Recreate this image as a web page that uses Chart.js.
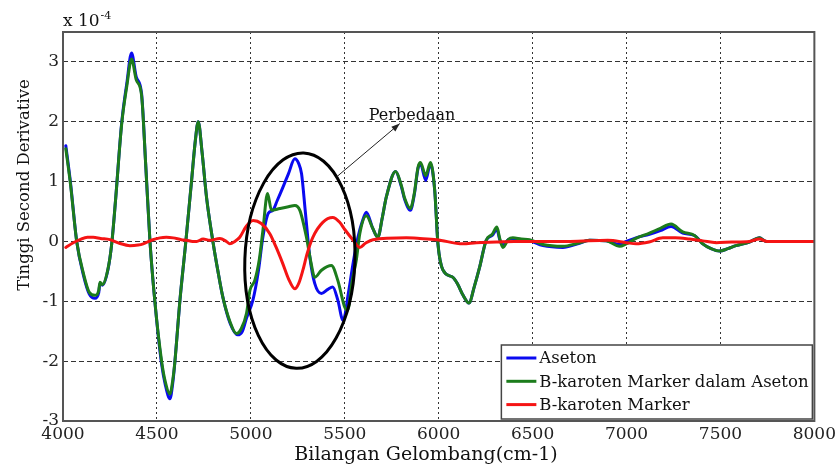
<!DOCTYPE html>
<html>
<head>
<meta charset="utf-8">
<script src="https://cdn.jsdelivr.net/npm/chart.js@4.4.1/dist/chart.umd.min.js"></script>
<style>
  html, body { margin: 0; padding: 0; background: #fff; }
</style>
</head>
<body>
<canvas id="spectrumChart" width="839" height="468"></canvas>
<script>
const seriesLabels = ['Aseton', 'B-karoten Marker dalam Aseton', 'B-karoten Marker'];
const seriesColors = ['#0a0af0', '#1c7c1c', '#f51414'];

// Aseton (blue)
const asetonWn = [4015, 4040, 4073, 4110, 4140, 4170, 4190, 4197, 4210, 4240, 4259, 4280, 4312, 4340, 4365, 4390, 4418, 4440, 4463, 4489,
  4525, 4545, 4569, 4585, 4596, 4622, 4654, 4684, 4705, 4720, 4740, 4764, 4798, 4825, 4851, 4890, 4930, 4955, 4977, 5011,
  5040, 5064, 5093, 5117, 5140, 5170, 5200, 5234, 5255, 5270, 5290, 5314, 5340, 5376, 5410, 5436, 5463, 5491, 5520, 5545,
  5570, 5595, 5615, 5649, 5676, 5700, 5721, 5771, 5800, 5819, 5849, 5870, 5890, 5903, 5931, 5956, 5979, 5996, 6023, 6076,
  6102, 6130, 6161, 6190, 6218, 6253, 6285, 6310, 6325, 6342, 6370, 6395, 6440, 6484, 6555, 6661, 6740, 6803, 6892, 6963,
  6998, 7050, 7122, 7180, 7237, 7299, 7362, 7406, 7450, 7495, 7540, 7583, 7654, 7707, 7743, 7800, 8000];
const asetonVal = [1.6, 0.98, 0.0, -0.58, -0.88, -0.95, -0.86, -0.7, -0.73, -0.46, -0.05, 0.7, 1.97, 2.65, 3.15, 2.75, 2.48, 1.3, 0.0, -1.0,
  -2.05, -2.4, -2.63, -2.35, -2.0, -1.0, 0.0, 1.0, 1.7, 2.0, 1.5, 0.74, 0.0, -0.5, -0.93, -1.37, -1.56, -1.5, -1.28, -0.98,
  -0.5, 0.07, 0.47, 0.52, 0.68, 0.9, 1.13, 1.38, 1.3, 1.13, 0.5, -0.26, -0.7, -0.87, -0.8, -0.76, -0.98, -1.32, -0.85, -0.35,
  0.07, 0.35, 0.49, 0.22, 0.07, 0.4, 0.74, 1.17, 0.93, 0.7, 0.52, 0.78, 1.22, 1.3, 1.02, 1.3, 0.85, -0.04, -0.48, -0.6,
  -0.72, -0.9, -1.03, -0.75, -0.43, 0.02, 0.1, 0.2, 0.03, -0.06, 0.03, 0.05, 0.03, 0.01, -0.07, -0.1, -0.04, 0.02, 0.01, -0.05,
  0.0, 0.06, 0.12, 0.18, 0.25, 0.14, 0.1, -0.04, -0.12, -0.16, -0.12, -0.07, -0.01, 0.06, 0.0, 0.0, 0.0];

// B-karoten Marker dalam Aseton (green)
const campuranWn = [4015, 4040, 4073, 4110, 4140, 4170, 4190, 4197, 4210, 4240, 4259, 4280, 4312, 4340, 4365, 4390, 4418, 4440, 4463, 4489,
  4525, 4545, 4569, 4585, 4596, 4622, 4654, 4684, 4705, 4720, 4740, 4764, 4798, 4825, 4851, 4890, 4923, 4950, 4977, 4995,
  5021, 5045, 5064, 5089, 5110, 5154, 5200, 5234, 5261, 5296, 5320, 5340, 5376, 5429, 5463, 5500, 5515, 5540, 5562, 5580,
  5615, 5649, 5676, 5700, 5721, 5771, 5800, 5819, 5849, 5870, 5890, 5903, 5931, 5956, 5979, 5996, 6023, 6076, 6102, 6130,
  6161, 6190, 6218, 6253, 6285, 6310, 6325, 6342, 6370, 6395, 6440, 6484, 6555, 6661, 6740, 6803, 6892, 6963, 6998, 7050,
  7122, 7180, 7237, 7299, 7362, 7406, 7450, 7495, 7540, 7583, 7654, 7707, 7743, 7800, 8000];
const campuranVal = [1.55, 0.95, 0.0, -0.55, -0.85, -0.9, -0.82, -0.68, -0.72, -0.45, -0.05, 0.7, 1.95, 2.6, 3.05, 2.7, 2.45, 1.3, 0.0, -1.0,
  -2.0, -2.35, -2.55, -2.3, -2.0, -1.0, 0.0, 1.0, 1.7, 2.0, 1.5, 0.74, 0.0, -0.5, -0.93, -1.35, -1.54, -1.45, -1.2, -0.82,
  -0.65, -0.3, 0.18, 0.8, 0.52, 0.55, 0.58, 0.6, 0.52, 0.07, -0.35, -0.6, -0.48, -0.4, -0.65, -1.1, -1.15, -0.65, -0.3, 0.13,
  0.43, 0.22, 0.07, 0.4, 0.74, 1.17, 0.95, 0.72, 0.55, 0.8, 1.24, 1.32, 1.1, 1.32, 0.85, -0.04, -0.48, -0.6, -0.72, -0.9,
  -1.03, -0.75, -0.43, 0.02, 0.12, 0.24, 0.05, -0.1, 0.03, 0.06, 0.04, 0.03, -0.05, -0.08, -0.03, 0.02, 0.01, -0.08, -0.04, 0.05,
  0.14, 0.22, 0.29, 0.16, 0.1, -0.04, -0.12, -0.16, -0.12, -0.07, -0.01, 0.06, 0.0, 0.0, 0.0];

// B-karoten Marker (red)
const markerWn = [4015, 4050, 4090, 4130, 4161, 4200, 4250, 4300, 4356, 4400, 4427, 4470, 4516, 4550, 4587, 4630, 4658, 4690, 4711, 4746,
  4782, 4835, 4870, 4888, 4915, 4941, 4975, 5012, 5056, 5101, 5135, 5170, 5200, 5234, 5255, 5277, 5300, 5330, 5383, 5436,
  5473, 5500, 5545, 5580, 5610, 5650, 5828, 5900, 5990, 6129, 6200, 6307, 6400, 6500, 6700, 6900, 7000, 7051, 7120, 7193,
  7260, 7335, 7406, 7477, 7560, 7654, 7707, 7750, 8000];
const markerVal = [-0.1, -0.03, 0.03, 0.07, 0.07, 0.05, 0.03, -0.03, -0.07, -0.06, -0.04, 0.02, 0.06, 0.07, 0.06, 0.03, 0.02, 0.0, 0.0, 0.04,
  0.02, 0.05, 0.0, -0.04, 0.0, 0.07, 0.25, 0.35, 0.3, 0.13, -0.1, -0.37, -0.62, -0.79, -0.7, -0.48, -0.2, 0.07, 0.32, 0.4,
  0.32, 0.2, 0.02, -0.1, -0.03, 0.03, 0.06, 0.05, 0.03, -0.04, -0.02, -0.01, 0.0, 0.0, 0.0, 0.02, -0.02, -0.04, -0.01, 0.06,
  0.06, 0.04, 0.01, -0.02, -0.01, 0.0, 0.04, 0.0, 0.0];

// annotation: ellipse (centre x, centre y, radius x, radius y) and arrow in data units
const noteEllipse = [5261, -0.32, 293, 1.8];
const noteArrow = [5457, 1.08, 5793, 1.97];
const noteText = 'Perbedaan';

function toPoints(xs, ys) {
    return xs.map((x, i) => ({ x: x, y: ys[i] }));
}

const serif = 'DejaVu Serif';

const overlayPlugin = {
    id: 'overlay',
    afterDatasetsDraw(chart) {
        const { ctx, chartArea: a, scales: { x, y } } = chart;
        ctx.save();
        // plot frame
        ctx.strokeStyle = '#555';
        ctx.lineWidth = 2;
        ctx.strokeRect(a.left, a.top, a.right - a.left, a.bottom - a.top);

        // ellipse
        const cx = x.getPixelForValue(noteEllipse[0]);
        const cy = y.getPixelForValue(noteEllipse[1]);
        const rx = x.getPixelForValue(noteEllipse[0] + noteEllipse[2]) - cx;
        const ry = cy - y.getPixelForValue(noteEllipse[1] + noteEllipse[3]);
        ctx.strokeStyle = '#000';
        ctx.lineWidth = 3;
        ctx.beginPath();
        ctx.ellipse(cx, cy, rx, ry, 0.035, 0, Math.PI * 2);
        ctx.stroke();

        // arrow
        const x1 = x.getPixelForValue(noteArrow[0]), y1 = y.getPixelForValue(noteArrow[1]);
        const x2 = x.getPixelForValue(noteArrow[2]), y2 = y.getPixelForValue(noteArrow[3]);
        const ang = Math.atan2(y2 - y1, x2 - x1);
        ctx.lineWidth = 1;
        ctx.strokeStyle = '#222';
        ctx.fillStyle = '#222';
        ctx.beginPath();
        ctx.moveTo(x1, y1);
        ctx.lineTo(x2, y2);
        ctx.stroke();
        ctx.beginPath();
        ctx.moveTo(x2, y2);
        ctx.lineTo(x2 - 9 * Math.cos(ang - 0.35), y2 - 9 * Math.sin(ang - 0.35));
        ctx.lineTo(x2 - 9 * Math.cos(ang + 0.35), y2 - 9 * Math.sin(ang + 0.35));
        ctx.closePath();
        ctx.fill();

        ctx.font = '16px "' + serif + '"';
        ctx.fillStyle = '#111';
        ctx.textAlign = 'left';
        ctx.textBaseline = 'alphabetic';
        ctx.fillText(noteText, x2 - 31, y2 - 4);
        ctx.restore();
    },
    afterDraw(chart) {
        const { ctx, chartArea: a } = chart;
        ctx.save();
        ctx.fillStyle = '#111';

        // axis titles
        ctx.font = '19px "' + serif + '"';
        ctx.textAlign = 'center';
        ctx.textBaseline = 'middle';
        ctx.fillText('Bilangan Gelombang(cm-1)', 426, 455);

        ctx.save();
        ctx.translate(25, 185);
        ctx.rotate(-Math.PI / 2);
        ctx.font = '16.5px "' + serif + '"';
        ctx.fillText('Tinggi Second Derivative', 0, 0);
        ctx.restore();

        // exponent
        ctx.textAlign = 'left';
        ctx.textBaseline = 'alphabetic';
        ctx.font = '17px "' + serif + '"';
        ctx.fillText('x 10', a.left, 26);
        const w = ctx.measureText('x 10').width;
        ctx.font = '11px "' + serif + '"';
        ctx.fillText('-4', a.left + w + 1, 19);

        // legend
        const box = { left: a.right - 313, top: a.bottom - 76, width: 311, height: 74 };
        ctx.fillStyle = '#fff';
        ctx.fillRect(box.left, box.top, box.width, box.height);
        ctx.strokeStyle = '#444';
        ctx.lineWidth = 1.5;
        ctx.strokeRect(box.left, box.top, box.width, box.height);
        ctx.font = '16.5px "' + serif + '"';
        ctx.textBaseline = 'middle';
        chart.data.datasets.forEach((ds, i) => {
            const rowY = box.top + 13 + i * 23.3;
            ctx.strokeStyle = ds.borderColor;
            ctx.lineWidth = 3;
            ctx.beginPath();
            ctx.moveTo(box.left + 5, rowY);
            ctx.lineTo(box.left + 35, rowY);
            ctx.stroke();
            ctx.fillStyle = '#111';
            ctx.fillText(ds.label, box.left + 38, rowY + 1);
        });
        ctx.restore();
    }
};

new Chart(document.getElementById('spectrumChart'), {
    type: 'line',
    data: {
        datasets: [
            { label: seriesLabels[0], data: toPoints(asetonWn, asetonVal), borderColor: seriesColors[0], order: 2 },
            { label: seriesLabels[1], data: toPoints(campuranWn, campuranVal), borderColor: seriesColors[1], order: 1 },
            { label: seriesLabels[2], data: toPoints(markerWn, markerVal), borderColor: seriesColors[2], order: 0 }
        ]
    },
    options: {
        responsive: false,
        animation: false,
        devicePixelRatio: 1,
        layout: { padding: { top: 32, right: 24, left: 0, bottom: 0 } },
        elements: {
            point: { radius: 0 },
            line: { borderWidth: 3, cubicInterpolationMode: 'monotone', fill: false, borderJoinStyle: 'round', borderCapStyle: 'round' }
        },
        plugins: {
            legend: { display: false },
            tooltip: { enabled: false }
        },
        scales: {
            x: {
                type: 'linear',
                min: 4000,
                max: 8000,
                afterFit: function(scale) { scale.height = 47; },
                ticks: {
                    stepSize: 500,
                    autoSkip: false,
                    maxRotation: 0,
                    padding: 3,
                    color: '#222',
                    font: { family: serif, size: 17 },
                    callback: v => String(v)
                },
                grid: { color: '#333', lineWidth: 1, drawTicks: false },
                border: { display: false, dash: [2, 3] }
            },
            y: {
                min: -3,
                max: 3.5,
                afterFit: function(scale) { scale.width = 63; },
                ticks: {
                    stepSize: 1,
                    includeBounds: false,
                    padding: 4,
                    color: '#222',
                    font: { family: serif, size: 17 },
                    callback: v => Number.isInteger(v) ? String(v) : ''
                },
                grid: { color: '#333', lineWidth: 1, drawTicks: false },
                border: { display: false, dash: [5, 3] }
            }
        }
    },
    plugins: [overlayPlugin]
});
</script>
</body>
</html>
